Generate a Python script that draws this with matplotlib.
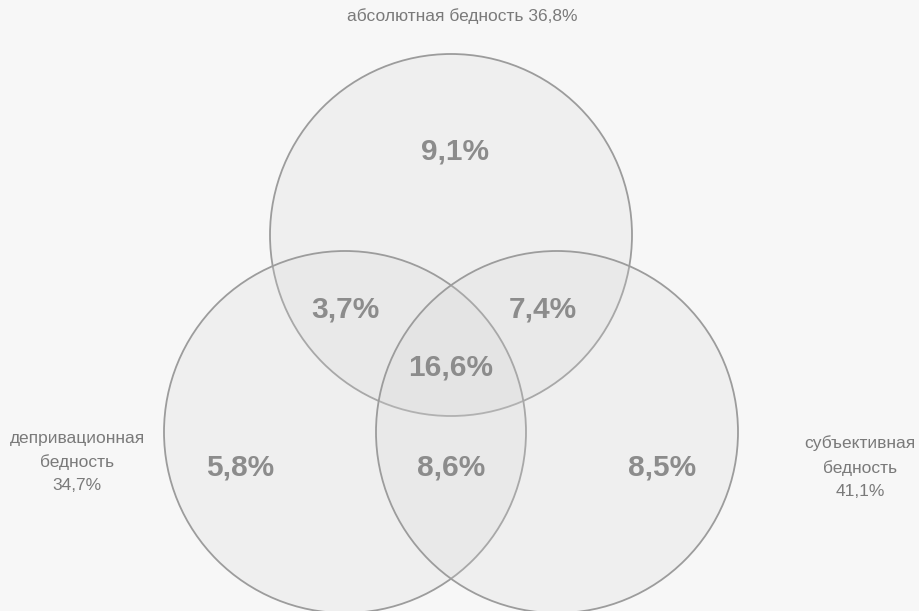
import matplotlib.pyplot as plt
from matplotlib.patches import Circle

plt.rcParams['font.family'] = ['Liberation Sans Narrow', 'Liberation Sans', 'DejaVu Sans']

# circle names and totals
set_names = ['абсолютная бедность', 'депривационная\nбедность', 'субъективная\nбедность']
set_totals = ['36,8%', '34,7%', '41,1%']

# region shares (only A, A&B, A&C, A&B&C, only B, B&C, only C)
region_names = ['A', 'AB', 'AC', 'ABC', 'B', 'BC', 'C']
region_values = ['9,1%', '3,7%', '7,4%', '16,6%', '5,8%', '8,6%', '8,5%']

fig = plt.figure(figsize=(9.19, 6.11), dpi=100)
fig.patch.set_facecolor('#f7f7f7')
ax = fig.add_axes([0, 0, 1, 1])
ax.set_xlim(0, 919)
ax.set_ylim(611, 0)
ax.set_aspect('equal')
ax.axis('off')

r = 181
centers = [(451, 235), (345, 432), (557, 432)]
for c in centers:
    ax.add_patch(Circle(c, r, facecolor='#d4d4d4', alpha=0.22, edgecolor='none'))
    ax.add_patch(Circle(c, r, facecolor='none', edgecolor='#9c9c9c', lw=1.3))

region_pos = {'A': (455, 152), 'AB': (345, 310), 'AC': (543, 310), 'ABC': (451, 368),
              'B': (240, 467), 'BC': (451, 467), 'C': (662, 467)}
for name, val in zip(region_names, region_values):
    x, y = region_pos[name]
    ax.text(x, y, val, ha='center', va='center', fontsize=21.5, fontweight='bold',
            color='#8c8c8c', family=['Liberation Sans', 'DejaVu Sans'])

ax.text(462, 16, set_names[0] + ' ' + set_totals[0], ha='center', va='center',
        fontsize=12.5, color='#7a7a7a')
ax.text(77, 462, set_names[1] + '\n' + set_totals[1], ha='center', va='center',
        fontsize=12.5, color='#7a7a7a', linespacing=1.68)
ax.text(860, 467, set_names[2] + '\n' + set_totals[2], ha='center', va='center',
        fontsize=12.5, color='#7a7a7a', linespacing=1.68)

fig.savefig('out.png', dpi=100, facecolor=fig.get_facecolor())
